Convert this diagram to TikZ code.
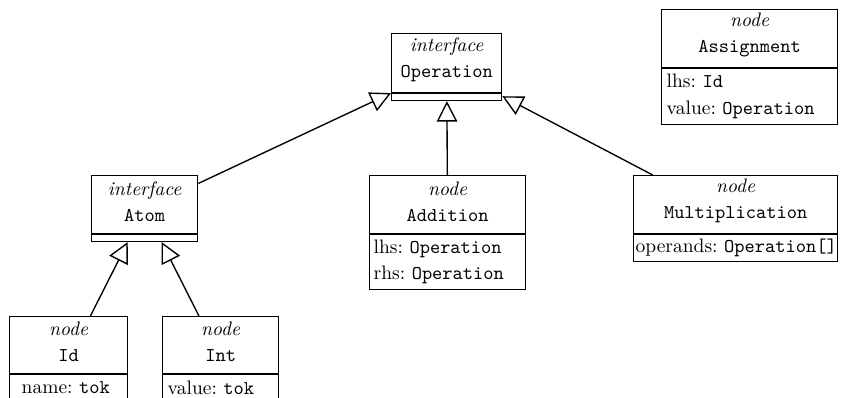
\documentclass[tikz,border=0pt]{standalone}
\usetikzlibrary{shapes.multipart,arrows.meta}

% one drawing unit, used for positions and box sizes
\newdimen\pxu \pxu=0.5128pt

% class header: width, height, stereotype, class name
\newcommand\classhead[4]{%
  \parbox[c][#2\pxu][c]{#1\pxu}{\centering\baselineskip=13.3pt
    \textit{#3}\par\texttt{#4}\par\vspace{7\pxu}}}
% attribute compartment: width, height, left pad, lines
\newcommand\classbody[4]{%
  \parbox[c][#2\pxu][c]{#1\pxu}{\frenchspacing\baselineskip=13.6pt
    \leftskip=#3\pxu\rightskip=0pt plus 1fil\parindent=0pt #4}}
% empty compartment of an interface
\newcommand\classgap{\rule{0pt}{6\pxu}}

\tikzset{
  umlclass/.style={rectangle split, rectangle split parts=2, draw,
    line width=0.7pt, inner sep=0pt, anchor=north west},
  generalize/.style={line width=0.7pt,
    -{Triangle[open,length=10.5pt,width=10.5pt]}},
}

\begin{document}
\begin{tikzpicture}[x=\pxu,y=-\pxu]
\useasboundingbox (0,0) rectangle (853,398);

% interfaces
\node[umlclass] (op) at (391,33)
  {\classhead{110}{58}{interface}{Operation}\nodepart{two}\classgap};
\node[umlclass] (atom) at (91,175)
  {\classhead{106}{57}{interface}{Atom}\nodepart{two}\classgap};

% concrete nodes
\node[umlclass] (add) at (369,175)
  {\classhead{156}{57}{node}{Addition}\nodepart{two}%
   \classbody{156}{54}{4}{\mbox{lhs: \texttt{Operation}}\par\mbox{rhs: \texttt{Operation}}}};
\node[umlclass] (mul) at (633,175)
  {\classhead{204}{57}{node}{Multiplication}\nodepart{two}%
   \classbody{204}{26}{2}{\mbox{operands: \texttt{Operation[]}}}};
\node[umlclass] (asg) at (661,9)
  {\classhead{176}{57}{node}{Assignment}\nodepart{two}%
   \classbody{176}{55}{5}{\mbox{lhs: \texttt{Id}}\par\mbox{value: \texttt{Operation}}}};
\node[umlclass] (id) at (9,316)
  {\classhead{118}{56}{node}{Id}\nodepart{two}%
   \classbody{118}{26}{12}{\mbox{name: \texttt{tok}}}};
\node[umlclass] (int) at (162,316)
  {\classhead{116}{56}{node}{Int}\nodepart{two}%
   \classbody{116}{26}{5}{\mbox{value: \texttt{tok}}}};

% generalization arrows
\draw[generalize] (atom) -- (op);
\draw[generalize] (add) -- (op);
\draw[generalize] (mul) -- (op);
\draw[generalize] (id) -- (atom);
\draw[generalize] (int) -- (atom);
\end{tikzpicture}
\end{document}
